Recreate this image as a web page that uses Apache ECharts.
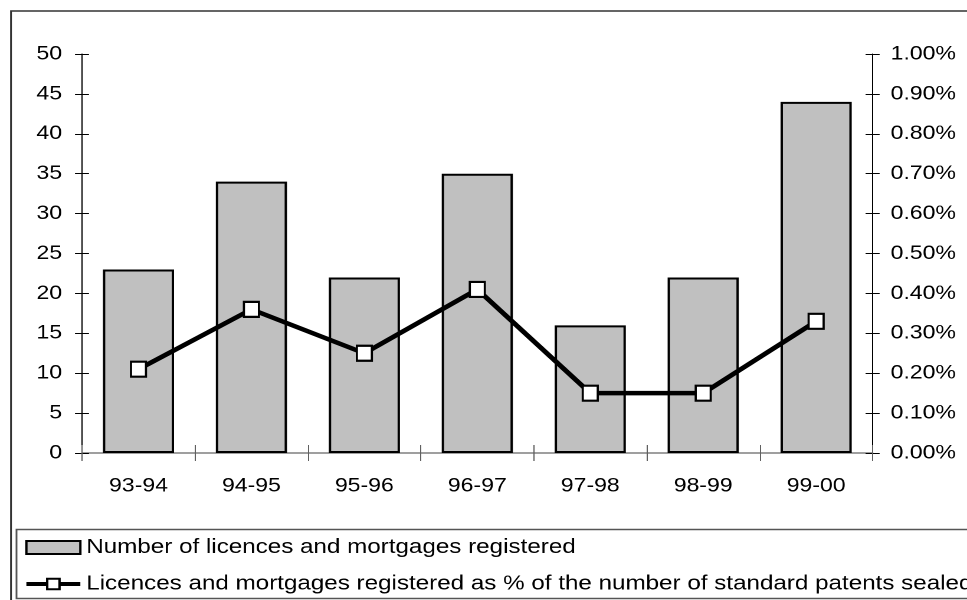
<!DOCTYPE html>
<html>
<head>
<meta charset="utf-8">
<script src="https://cdn.jsdelivr.net/npm/echarts@6/dist/echarts.min.js"></script>
<style>
  html, body { margin: 0; padding: 0; background: #fff; overflow: hidden; }
  /* the chart is laid out narrower and widened, giving the broad lettering */
  #chart { width: 820px; height: 600px; transform: scaleX(1.18); transform-origin: 0 0; }
</style>
</head>
<body>
<div id="chart"></div>
<script>
// Financial years
const categories = ['93-94', '94-95', '95-96', '96-97', '97-98', '98-99', '99-00'];
// Number of licences and mortgages registered
const licenceCounts = [23, 34, 22, 35, 16, 22, 44];
// Registrations as a percentage of standard patents sealed (in %)
const percentOfSealed = [0.21, 0.36, 0.25, 0.41, 0.15, 0.15, 0.33];

// Axis ranges
const countAxis = { min: 0, max: 50, interval: 5 };
const percentAxis = { min: 0, max: 1, interval: 0.1 };

const barName = 'Number of licences and mortgages registered';
const lineName = 'Licences and mortgages registered as % of the number of standard patents sealed';

const SX = 1.18;           // horizontal widening applied by CSS
const FONT = '"Liberation Sans", Arial, sans-serif';
const FS = 19.5;
const LEGEND_FS = 20.5;
const TICK = 7 / SX;

const chart = echarts.init(document.getElementById('chart'), null, { renderer: 'canvas', devicePixelRatio: 2 });

function yAxisBase(range, pos, extra) {
  return Object.assign({
    type: 'value',
    position: pos,
    min: range.min,
    max: range.max,
    interval: range.interval,
    splitLine: { show: false },
    axisLine: { show: true, lineStyle: { color: '#000', width: 1 } },
    axisTick: { show: true, length: TICK, lineStyle: { color: '#000', width: 1 } },
    axisLabel: { show: true, color: '#000', fontFamily: FONT, fontSize: FS }
  }, extra || {});
}

const option = {
  animation: false,
  backgroundColor: '#fff',
  textStyle: { fontFamily: FONT },
  grid: { left: 82 / SX, right: 95 / SX, top: 54, bottom: 147, containLabel: false },
  xAxis: [
    {
      type: 'category',
      data: categories,
      position: 'bottom',
      boundaryGap: true,
      axisLine: { show: true, lineStyle: { color: '#808080', width: 1.5 } },
      axisTick: { show: true, length: 8, lineStyle: { color: '#606060', width: 1 } },
      axisLabel: { color: '#000', fontFamily: FONT, fontSize: FS, margin: 23 },
      splitLine: { show: false }
    },
    {
      // inner half of the crossing category ticks
      type: 'category',
      data: categories,
      position: 'bottom',
      boundaryGap: true,
      axisLine: { show: false },
      axisTick: { show: true, inside: true, length: 8, lineStyle: { color: '#606060', width: 1 } },
      axisLabel: { show: false },
      splitLine: { show: false }
    }
  ],
  yAxis: [
    yAxisBase(countAxis, 'left', {
      axisLabel: { color: '#000', fontFamily: FONT, fontSize: FS, margin: 20 / SX, padding: [3, 0, 0, 0] }
    }),
    yAxisBase(percentAxis, 'right', {
      axisLabel: {
        color: '#000', fontFamily: FONT, fontSize: FS, margin: 18 / SX, padding: [3, 0, 0, 0],
        formatter: v => v.toFixed(2) + '%'
      }
    }),
    // inner halves of the crossing value ticks
    yAxisBase(countAxis, 'left', {
      axisLine: { show: false },
      axisTick: { show: true, inside: true, length: TICK, lineStyle: { color: '#000', width: 1 } },
      axisLabel: { show: false }
    }),
    yAxisBase(percentAxis, 'right', {
      axisLine: { show: false },
      axisTick: { show: true, inside: true, length: TICK, lineStyle: { color: '#000', width: 1 } },
      axisLabel: { show: false }
    })
  ],
  legend: {
    orient: 'vertical',
    left: 24 / SX,
    top: 537,
    padding: 0,
    itemWidth: 54 / SX,
    itemHeight: 13,
    itemGap: 15.5,
    selectedMode: false,
    textStyle: { color: '#000', fontFamily: FONT, fontSize: LEGEND_FS },
    lineStyle: { width: 4 },
    data: [
      { name: barName, icon: 'rect' },
      { name: lineName }
    ]
  },
  graphic: [
    {
      type: 'rect', silent: true, z: -10,
      shape: { x: 11 / SX, y: 11, width: 1200, height: 1200 },
      style: { fill: 'none', stroke: '#333', lineWidth: 1.5 }
    },
    {
      type: 'rect', silent: true, z: -10,
      shape: { x: 16.5 / SX, y: 529.5, width: 1200, height: 69 },
      style: { fill: 'none', stroke: '#555', lineWidth: 1.5 }
    }
  ],
  series: [
    {
      name: barName,
      type: 'bar',
      xAxisIndex: 0,
      yAxisIndex: 0,
      data: licenceCounts,
      barWidth: '63%',
      itemStyle: { color: '#c0c0c0', borderColor: '#000', borderWidth: 2 },
      z: 2
    },
    {
      name: lineName,
      type: 'line',
      xAxisIndex: 0,
      yAxisIndex: 1,
      data: percentOfSealed,
      symbol: 'rect',
      symbolSize: [15 / SX, 15],
      showAllSymbol: true,
      lineStyle: { color: '#000', width: 4.5 },
      itemStyle: { color: '#fff', borderColor: '#000', borderWidth: 2 },
      z: 5
    }
  ]
};

chart.setOption(option);
</script>
</body>
</html>
